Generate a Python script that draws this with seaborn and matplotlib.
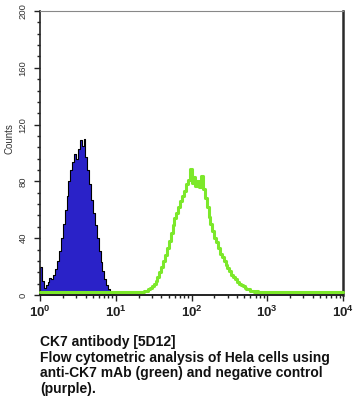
import numpy as np
import matplotlib
matplotlib.use("Agg")
import matplotlib.pyplot as plt
from matplotlib.ticker import MultipleLocator, LogLocator, NullFormatter
import seaborn as sns

# Negative control (purple fill), counts per 0.025-decade channel from 10^0 to 10^1
blue_lo, blue_hi = 0.0, 1.0
blue_counts = [20, 10, 5, 7, 9, 12, 11, 14, 18, 24,
               31, 40, 50, 60, 70, 80, 88, 94, 99, 96,
               103, 109, 105, 110, 97, 88, 78, 67, 58, 49,
               40, 31, 23, 17, 11, 7, 4, 2, 1, 0]

# anti-CK7 (green line), counts per 0.025-decade channel from 10^0 to 10^4
green_lo, green_hi = 0.0, 4.0
green_counts = [2, 2, 2, 2, 2, 2, 2, 2, 2, 2,
                2, 2, 2, 2, 2, 2, 2, 2, 2, 2,
                2, 2, 2, 2, 2, 2, 2, 2, 2, 2,
                2, 2, 2, 2, 2, 2, 2, 2, 2, 2,
                2, 2, 2, 2, 2, 2, 2, 2, 2, 2,
                2, 2,
                2, 2, 2, 3, 3, 4, 5, 6, 8, 10,
                13, 16, 20, 24, 28, 33, 38, 44, 49, 54,
                58, 62, 66, 70, 73, 78, 81, 89, 79, 83,
                77, 80, 76, 84, 75, 68, 62, 55, 50, 45,
                40, 37, 33, 29, 27, 24, 21, 19, 17, 14,
                13, 11, 9, 8, 7, 6, 5, 4, 4, 3,
                3, 2, 3, 2, 2, 2,
                2, 2, 2, 2, 2, 2, 2, 2, 2, 2,
                2, 2, 2, 2, 2, 2, 2, 2, 2, 2,
                2, 2, 2, 2, 2, 2, 2, 2, 2, 2,
                2, 2, 2, 2, 2, 2, 2, 2, 2, 2,
                2, 2]

x_ticks = [1, 10, 100, 1000, 10000]
x_tick_labels = [r"$10^{0}$", r"$10^{1}$", r"$10^{2}$", r"$10^{3}$", r"$10^{4}$"]
y_ticks = [0, 40, 80, 120, 160, 200]

caption = ("CK7 antibody [5D12]\n"
           "Flow cytometric analysis of Hela cells using\n"
           "anti-CK7 mAb (green) and negative control\n"
           "(purple).")


def channel_centers(lo, hi, n):
    w = (hi - lo) / n
    return 10 ** (lo + w * (np.arange(n) + 0.5))


sns.set_style("ticks")
plt.rcParams["font.family"] = ["Liberation Sans", "DejaVu Sans"]
plt.rcParams["mathtext.fontset"] = "custom"
plt.rcParams["mathtext.rm"] = "Liberation Sans:bold"
plt.rcParams["mathtext.default"] = "rm"

fig = plt.figure(figsize=(3.55, 4.0), dpi=100)
ax = fig.add_axes([40 / 355, 105 / 400, 303 / 355, 284 / 400])

sns.histplot(x=channel_centers(blue_lo, blue_hi, len(blue_counts)), weights=blue_counts,
             bins=len(blue_counts), binrange=(blue_lo, blue_hi), log_scale=True,
             element="step", fill=True, color="#2a22c8", alpha=1,
             edgecolor="black", linewidth=0.8, ax=ax)
sns.histplot(x=channel_centers(green_lo, green_hi, len(green_counts)), weights=green_counts,
             bins=len(green_counts), binrange=(green_lo, green_hi), log_scale=True,
             element="step", fill=False, color="#7ce82a", linewidth=2.2, ax=ax)
# keep the green trace above the filled control and the spines
for line in ax.lines:
    line.set_zorder(4)
    line.set_clip_on(False)

ax.set_xlim(1, 10000)
ax.set_ylim(0, 200)
ax.set_xticks(x_ticks)
ax.set_xticklabels(x_tick_labels, fontsize=9.5, color="#222222")
ax.xaxis.set_minor_locator(LogLocator(base=10, subs=np.arange(2, 10)))
ax.xaxis.set_minor_formatter(NullFormatter())
ax.set_yticks(y_ticks)
ax.set_yticklabels([str(v) for v in y_ticks], rotation=90, va="center",
                   fontsize=6.8, color="#333333")
ax.yaxis.set_minor_locator(MultipleLocator(8))

ax.tick_params(axis="both", which="major", direction="out", length=4, width=1, color="#222222")
ax.tick_params(axis="both", which="minor", direction="out", length=2.5, width=1, color="#222222")
ax.tick_params(axis="y", which="major", pad=5)
ax.tick_params(axis="x", which="major", pad=3)

ax.set_xlabel("")
ax.set_ylabel("Counts", fontsize=7, color="#333333")
ax.yaxis.set_label_coords(-0.085, 0.55)

ax.spines["top"].set_color("#888888")
ax.spines["top"].set_linewidth(0.8)
ax.spines["right"].set_color("#2a2a2a")
ax.spines["right"].set_linewidth(1.8)
ax.spines["left"].set_color("#222222")
ax.spines["left"].set_linewidth(1.2)
ax.spines["bottom"].set_color("#222222")
ax.spines["bottom"].set_linewidth(1.4)
ax.grid(False)

fig.text(40 / 355, 1 - 335 / 400, caption, fontsize=10, fontweight="bold",
         va="top", ha="left", linespacing=1.15, color="#111111")

fig.savefig("out.png", dpi=100)
